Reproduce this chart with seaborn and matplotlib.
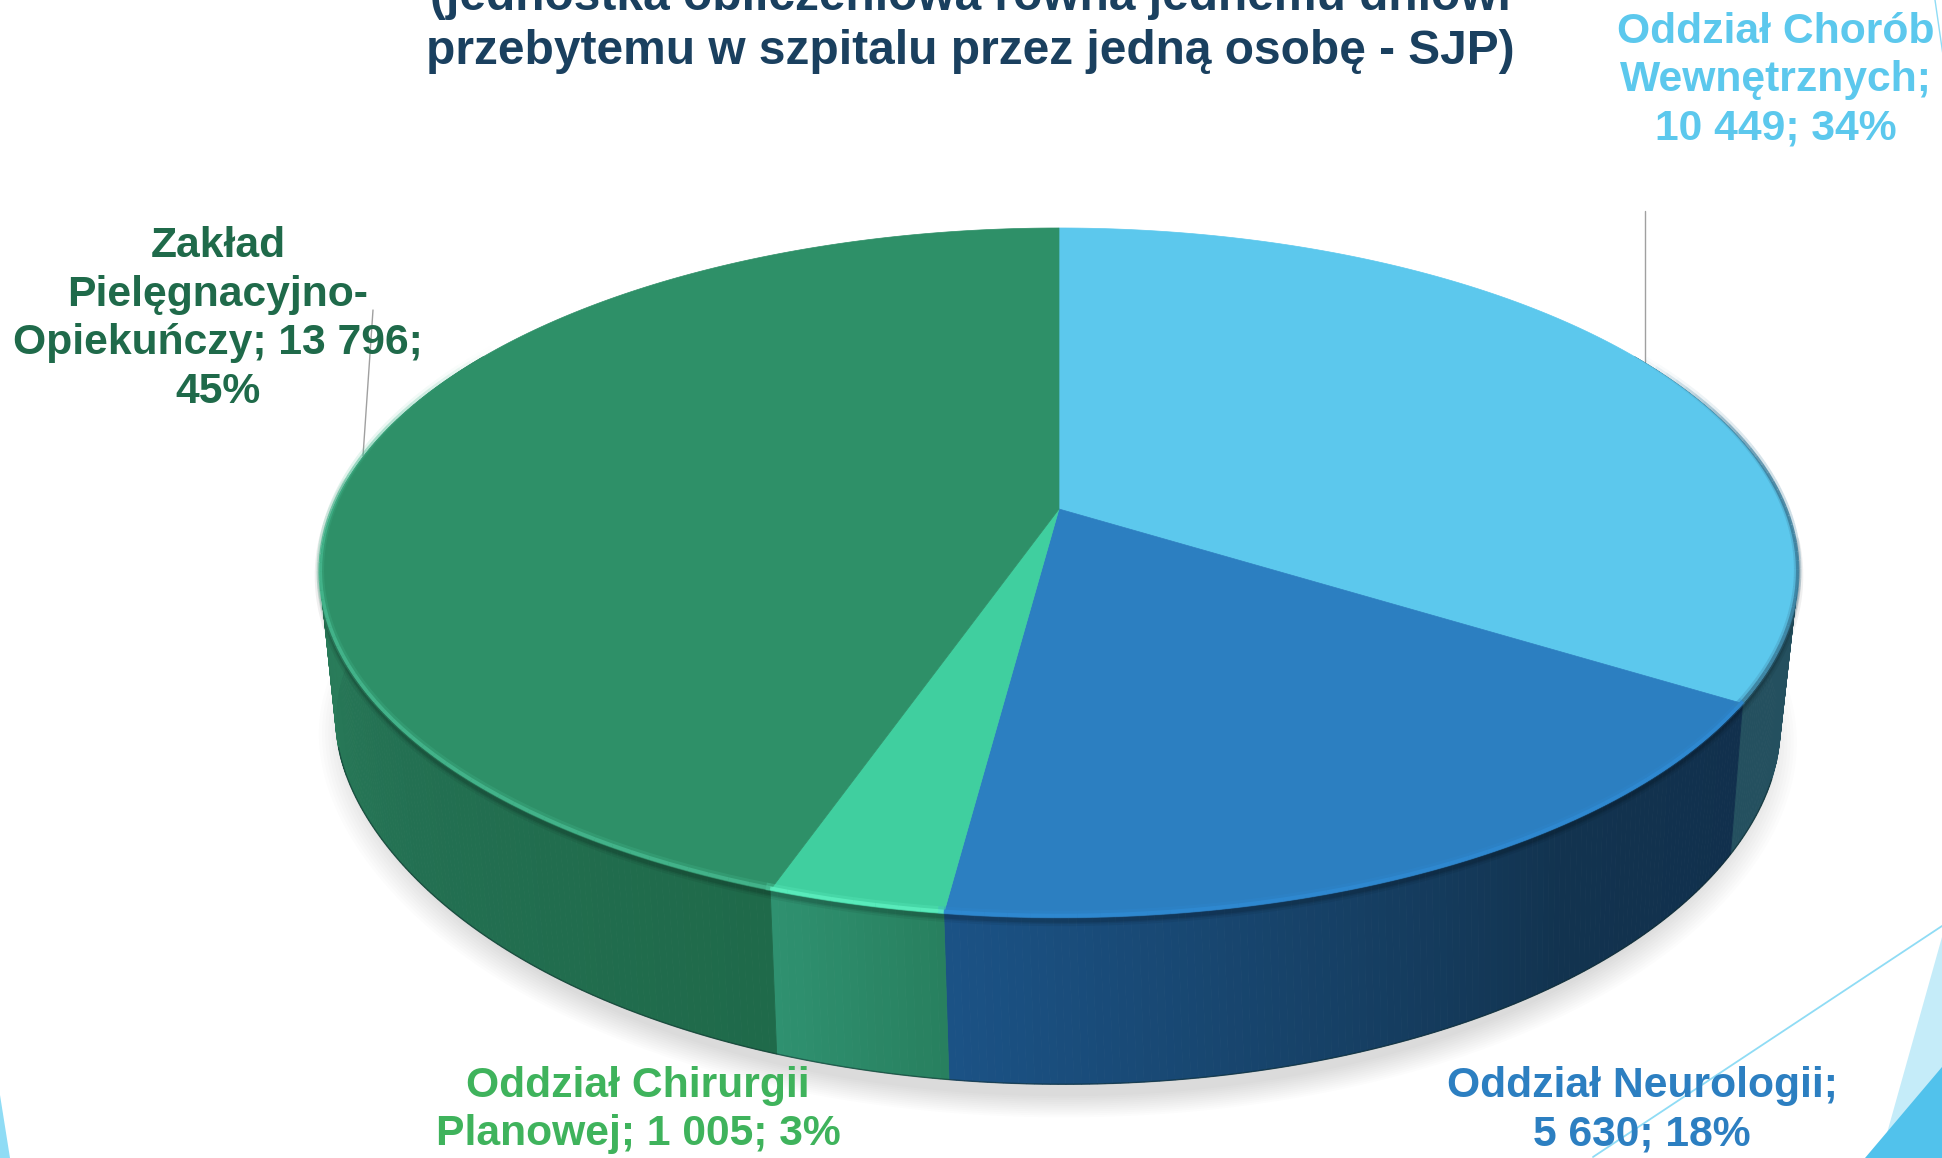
import numpy as np
import matplotlib.pyplot as plt
import seaborn as sns

# dane: wartości
oddzialy = ["Oddział Chorób Wewnętrznych", "Oddział Neurologii", "Oddział Chirurgii Planowej", "Zakład Pielęgnacyjno-Opiekuńczy"]
wartosci = [10449, 5630, 1005, 13796]
etykiety = ["Oddział Chorób\nWewnętrznych;\n10 449; 34%",
            "Oddział Neurologii;\n5 630; 18%",
            "Oddział Chirurgii\nPlanowej; 1 005; 3%",
            "Zakład\nPielęgnacyjno-\nOpiekuńczy; 13 796;\n45%"]
tytul = ["(jednostka obliczeniowa równa jednemu dniowi", "przebytemu w szpitalu przez jedną osobę - SJP)"]

# kolory
kolory_gora = ["#5cc8ed", "#2c7fc1", "#40cf9f", "#2e9068"]
kolory_tekst = ["#5cc8ed", "#2c7fc1", "#3fb35c", "#1f6a4a"]
kolory_bok = [["#24505f", "#24505f"],
              ["#11304d", "#12334f", "#17436a", "#1b5285"],
              ["#28805f", "#2f9170"],
              ["#1f6a4a", "#237052", "#2a7d5b", "#2a7d5b"]]
kolory_rant = ["#3d7f9d", "#2f8ad3", "#5df0bf", "#45b88e"]

# polozenie etykiet (srodek bloku, piksele)
poz_etykiet = [(1776, 80), (1642, 1110), (638, 1110), (218, 319)]

sns.set_theme(style="white")
plt.rcParams['font.family'] = ['Liberation Sans', 'DejaVu Sans']

fig = plt.figure(figsize=(19.42, 11.58), dpi=100)
ax = fig.add_axes([0, 0, 1, 1])
ax.set_xlim(0, 1942)
ax.set_ylim(1158, 0)
ax.axis("off")


# perspektywa: okrag -> obraz, th w stopniach zgodnie z zegarem od gory
def gora(th):
    t = np.radians(th)
    u, v = np.sin(t), -np.cos(t)
    d = 1 - 0.185 * v
    return 1059 + 726 * u / d, 509 + 333 * v / d


def dol(th, skala=1.0, dy=0):
    t = np.radians(th)
    u, v = np.sin(t), -np.cos(t)
    d = 1 - 0.23 * v
    # boki walca sa nieco szersze niz sam rzut okregu
    bok = np.where(u < 0, -29, 15) * np.abs(u) ** 8
    return 1064 + skala * (685 * u / d + bok), 657 + dy + skala * 329 * v / d


def jasnosc(th):
    return np.clip((th - 60) / 25, 0, 1) * np.clip((300 - th) / 40, 0, 1)


granice = np.concatenate([[0], np.cumsum(wartosci)]) / sum(wartosci) * 360

# tlo - elementy szablonu
ax.fill([1942, 1880, 1942], [937, 1158, 1158], color="#c5ecf9", lw=0, zorder=1)
ax.fill([1942, 1865, 1942], [1067, 1158, 1158], color="#51c2ec", lw=0, zorder=1)
ax.plot([1942, 1593], [926, 1157], color="#8fdcf5", lw=1.3, zorder=1)
ax.plot([1935, 1943], [0, 55], color="#8fdcf5", lw=1, zorder=1)
ax.fill([0, 10, 0], [1095, 1158, 1158], color="#8fdcf5", lw=0, zorder=1)

# cien
th_all = np.linspace(0, 360, 361)
for i in range(12):
    sx, sy = dol(th_all, skala=1.0 + 0.0045 * i, dy=12)
    sx = 1064 + (sx - 1064) * 0.975
    ax.fill(sx, sy, color="black", alpha=0.010, lw=0, zorder=2)

# linie odniesienia
ax.plot([1645, 1645], [211, 362], color="#a0a0a0", lw=1, zorder=3)
ax.plot([373, 363], [310, 456], color="#a0a0a0", lw=1, zorder=3)

# sciana boczna
zakres = [(60, granice[1]), (granice[1], granice[2]), (granice[2], granice[3]), (granice[3], 300)]
for (a, b), stopnie in zip(zakres, kolory_bok):
    n = max(int(b - a) * 2, 6)
    paleta = sns.blend_palette(stopnie, n)
    th = np.linspace(a, b, n + 1)
    for j in range(n):
        x1, y1 = gora(th[j:j + 2])
        x2, y2 = dol(th[j:j + 2])
        ax.fill([x1[0], x1[1], x2[1], x2[0]], [y1[0], y1[1], y2[1], y2[0]],
                color=paleta[j], lw=0.6, zorder=4)
# ciemna krawedz dolu i cien pod rantem
xd, yd = dol(np.linspace(110, 255, 300))
ax.plot(xd, yd, color="#0c2a2a", lw=1, alpha=0.5, zorder=5)
xg, yg = gora(np.linspace(95, 275, 300))
for szer, al in zip([8, 5, 3], [0.06, 0.08, 0.1]):
    ax.plot(xg, yg + 3, color="black", lw=szer, alpha=al, zorder=5)

# gorna powierzchnia
for i, kolor in enumerate(kolory_gora):
    th = np.linspace(granice[i], granice[i + 1], 200)
    x, y = gora(th)
    ax.fill(np.r_[1059, x], np.r_[509, y], color=kolor, lw=0.5, zorder=6)

# rant - jasniejsze obramowanie, zanika ku tylowi
rant_od = [60, granice[1], granice[2], granice[3]]
rant_do = [granice[1], granice[2], granice[3], 300]
for a, b, kolor in zip(rant_od, rant_do, kolory_rant):
    kroki = np.arange(a, b + 1.5, 1.5)
    for t1, t2 in zip(kroki[:-1], kroki[1:]):
        x, y = gora(np.array([t1, t2]))
        ax.plot(x, y - 2, color=kolor, lw=2.6, alpha=0.85 * jasnosc(t1),
                solid_capstyle="butt", zorder=7)
        ax.plot(x, y - 3, color=kolor, lw=5.5, alpha=0.25 * jasnosc(t1),
                solid_capstyle="butt", zorder=7)

# tytul
for linia, yy in zip(tytul, [-3, 51]):
    ax.text(970, yy, linia, ha="center", va="center", fontsize=34.5, fontweight="bold",
            color="#1a405f", zorder=8, clip_on=False)

# etykiety
for tekst, (px, py), kolor in zip(etykiety, poz_etykiet, kolory_tekst):
    ax.text(px, py, tekst, ha="center", va="center", fontsize=30.7, fontweight="bold",
            color=kolor, linespacing=1.27, zorder=9)

fig.savefig("out.png", dpi=100, facecolor="white")
